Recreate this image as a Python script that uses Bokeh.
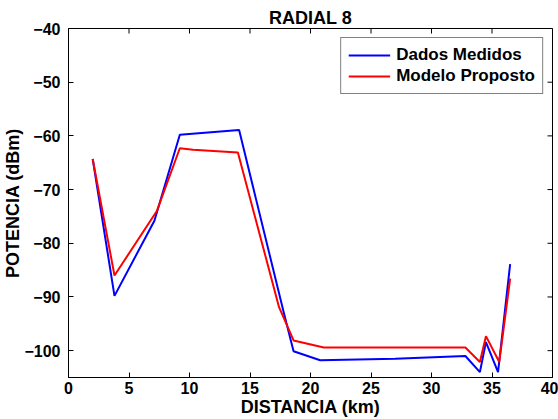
import math
from bokeh.plotting import figure
from bokeh.models import FixedTicker, Range1d, Legend, LegendItem
from bokeh.embed import file_html
from bokeh.resources import INLINE

# Data
dist_medidos = [2.0, 3.8, 7.1, 9.2, 14.1, 17.8, 18.6, 20.8, 27.0, 32.8, 34.0, 34.5, 35.5, 36.5]
pot_medidos = [-64.3, -89.8, -75.8, -59.8, -58.9, -93.0, -100.1, -101.8, -101.5, -101.0, -104.0, -98.4, -104.0, -83.9]

dist_modelo = [2.0, 3.8, 7.3, 9.2, 10.3, 14.0, 17.4, 18.6, 21.1, 32.8, 34.0, 34.5, 35.6, 36.5]
pot_modelo = [-64.3, -86.0, -74.0, -62.3, -62.6, -63.1, -91.9, -98.1, -99.4, -99.4, -102.1, -97.3, -102.1, -86.6]

x_ticks = [0, 5, 10, 15, 20, 25, 30, 35, 40]
y_ticks = [-100, -90, -80, -70, -60, -50, -40]
x_min, x_max = 0, 40
y_min, y_max = -105, -40

FONT = "Liberation Sans"

p = figure(width=558, height=419, output_backend="svg", toolbar_location=None,
           x_range=Range1d(x_min, x_max), y_range=Range1d(y_min, y_max),
           min_border_left=68, min_border_right=6, min_border_top=28, min_border_bottom=42,
           title="RADIAL 8")

p.title.text_font = FONT
p.title.text_font_size = "18px"
p.title.text_font_style = "bold"
p.title.text_color = "black"
p.title.align = "center"
p.title.offset = 0
p.title.standoff = 2

p.xgrid.visible = False
p.ygrid.visible = False
p.outline_line_color = "black"
p.outline_line_width = 1

for ax, ticks in ((p.xaxis[0], x_ticks), (p.yaxis[0], y_ticks)):
    ax.ticker = FixedTicker(ticks=ticks)
    ax.minor_tick_line_color = None
    ax.major_tick_in = 5
    ax.major_tick_out = 0
    ax.major_label_text_font = FONT
    ax.major_label_text_font_size = "16px"
    ax.major_label_text_font_style = "bold"
    ax.major_label_text_color = "black"
    ax.axis_label_text_font = FONT
    ax.axis_label_text_font_size = "18px"
    ax.axis_label_text_font_style = "bold"
    ax.axis_label_text_color = "black"
    ax.axis_line_color = "black"

p.xaxis.axis_label = "DISTANCIA (km)"
p.yaxis.axis_label = "POTENCIA (dBm)"
p.xaxis.major_label_standoff = 4
p.xaxis.axis_label_standoff = 0
p.yaxis.major_label_standoff = 8
p.yaxis.axis_label_standoff = -2

# Mirror ticks on top and right edges (inward, 5 px)
p.ray(x=x_ticks, y=[y_max] * len(x_ticks), length=5, length_units="screen",
      angle=-math.pi / 2, line_color="black", line_width=1)
p.ray(x=[x_max] * len(y_ticks), y=y_ticks, length=5, length_units="screen",
      angle=math.pi, line_color="black", line_width=1)

r1 = p.line(dist_medidos, pot_medidos, line_color="#0000ff", line_width=2)
r2 = p.line(dist_modelo, pot_modelo, line_color="#ff0000", line_width=2)

legend = Legend(items=[LegendItem(label="Dados Medidos", renderers=[r1]),
                       LegendItem(label="Modelo Proposto", renderers=[r2])],
                location="top_right")
legend.margin = 9
legend.padding = 7
legend.spacing = 1
legend.glyph_width = 42
legend.glyph_height = 18
legend.label_height = 18
legend.label_standoff = 6
legend.label_text_font = FONT
legend.label_text_font_size = "17px"
legend.label_text_font_style = "bold"
legend.label_text_color = "black"
legend.border_line_color = "black"
legend.border_line_width = 1
legend.background_fill_color = "white"
legend.background_fill_alpha = 1
p.add_layout(legend, "center")

open("out.html", "w").write(file_html(p, INLINE))
